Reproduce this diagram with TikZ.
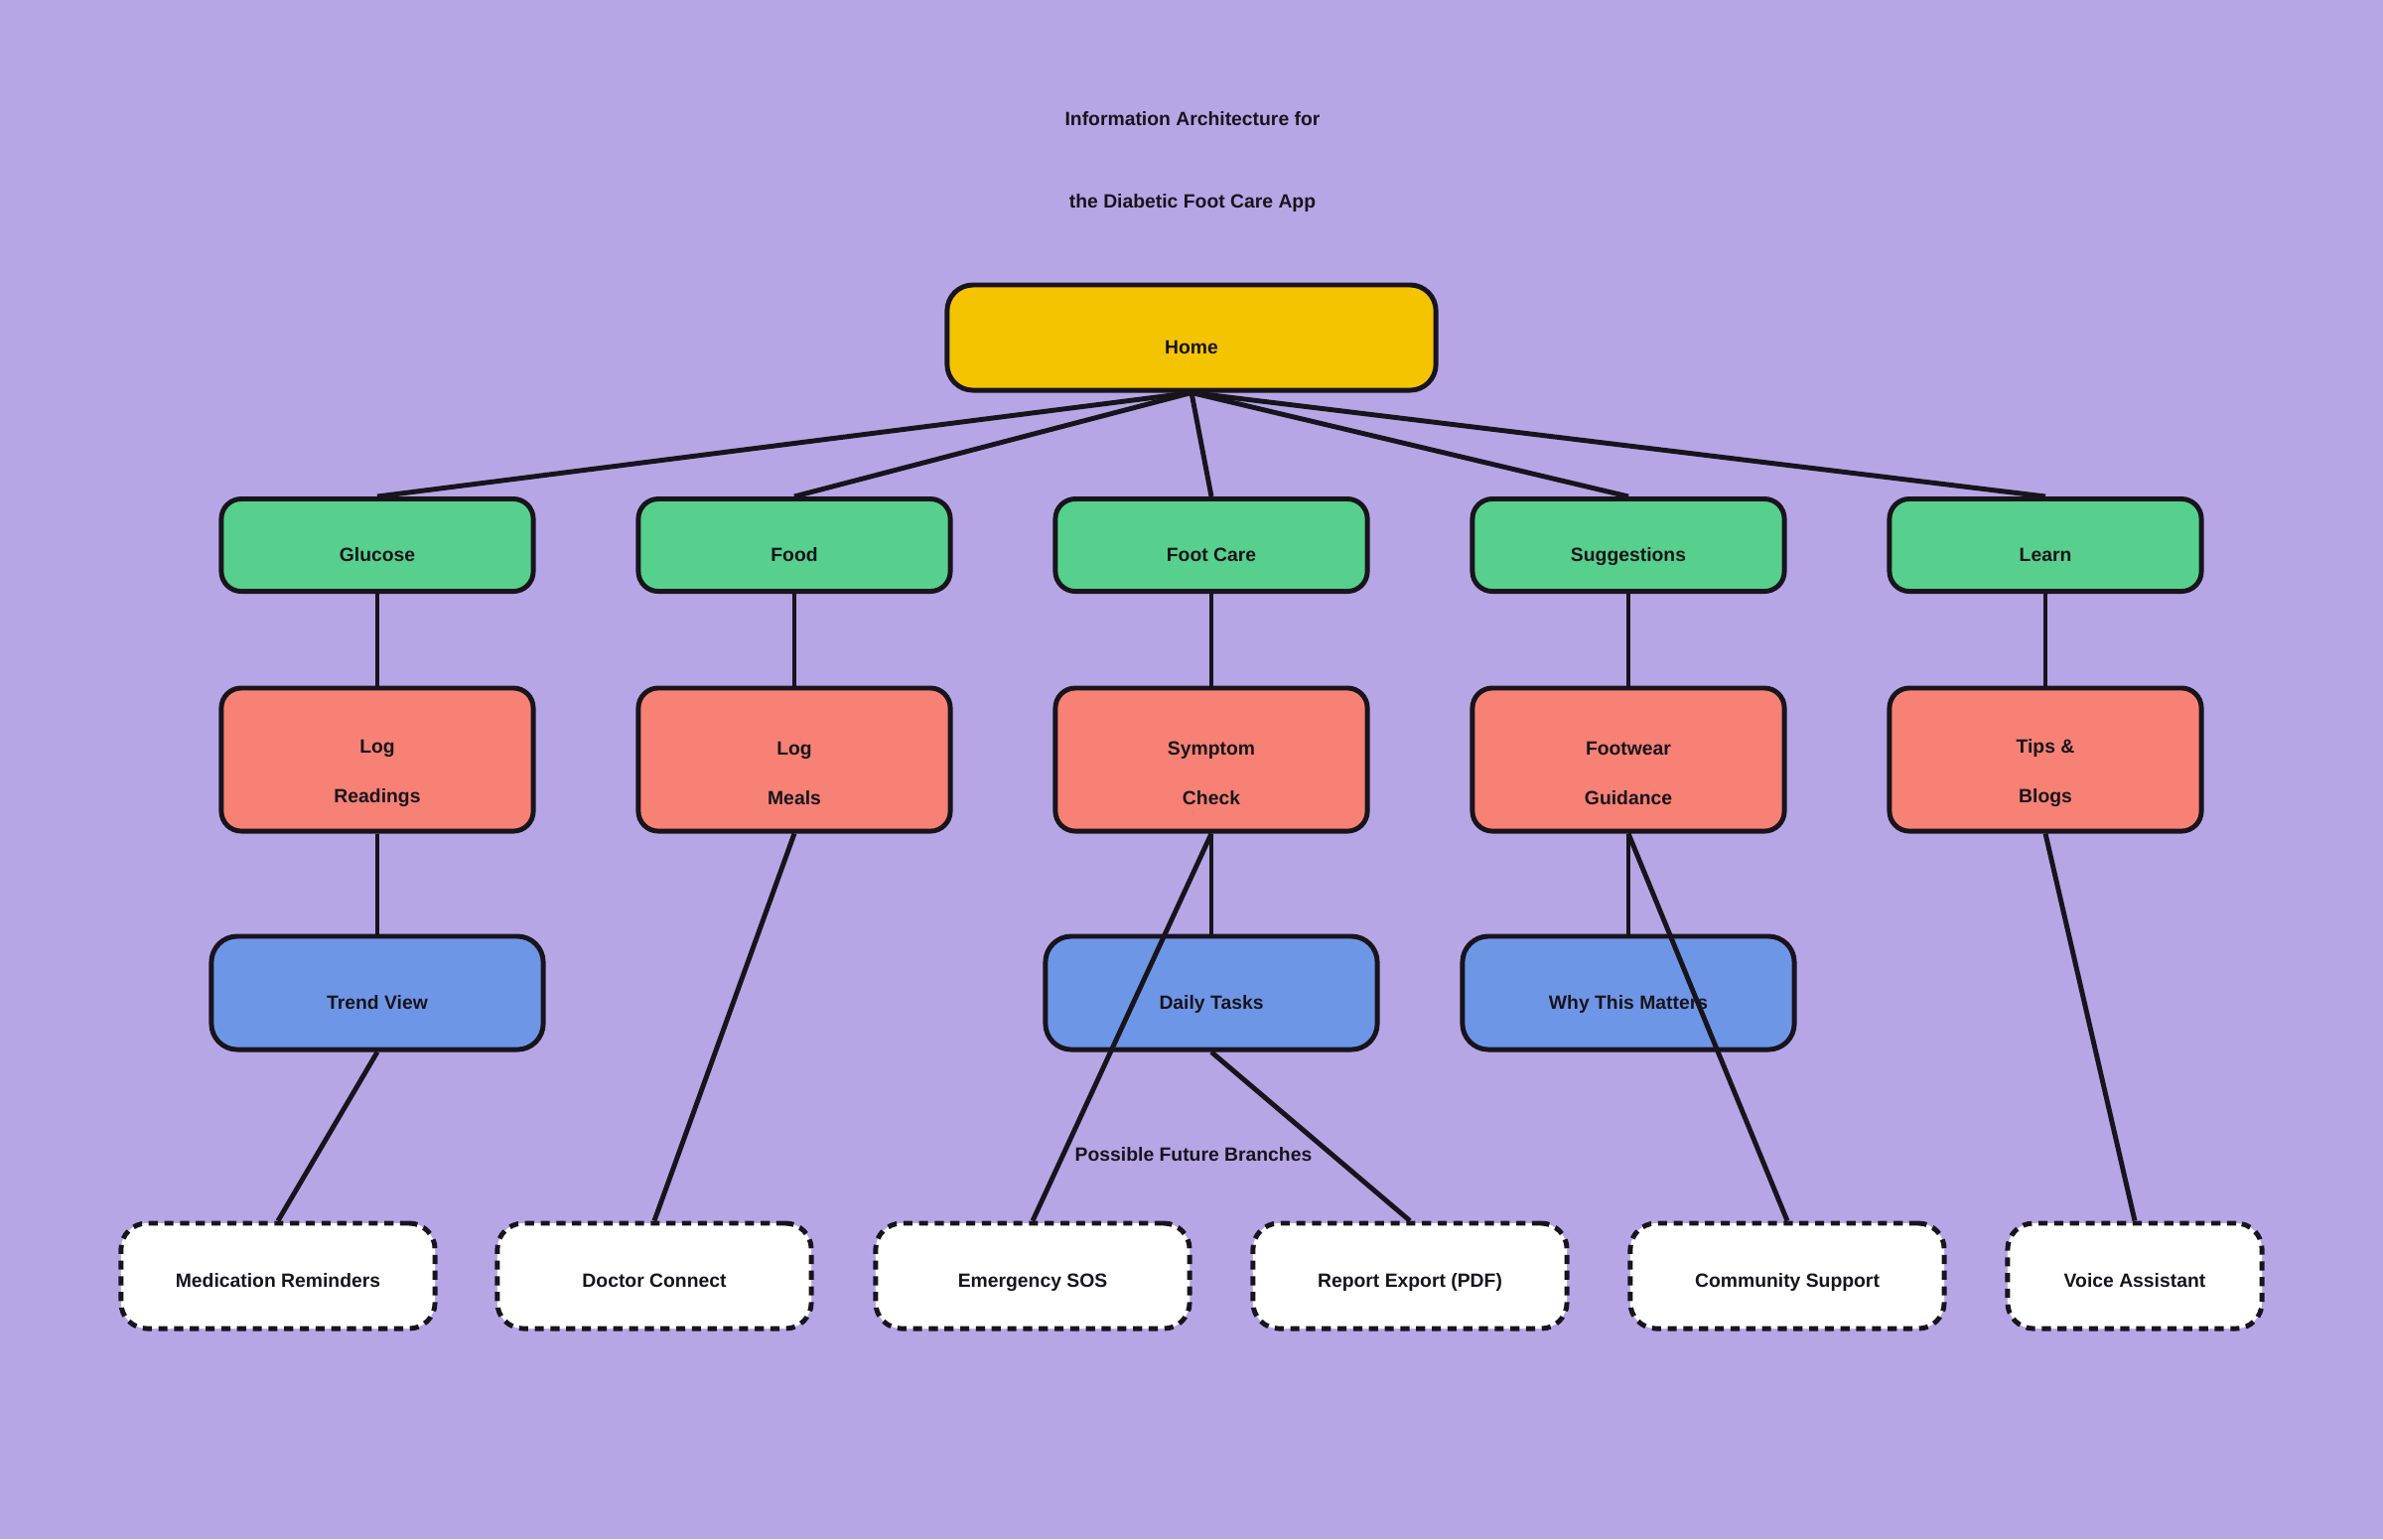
\documentclass[tikz,border=0pt]{standalone}
\usepackage{fontspec}
\setmainfont{Liberation Sans}
\usetikzlibrary{positioning}

\definecolor{bgpurple}{HTML}{B6A6E6}
\definecolor{homeyellow}{HTML}{F4C400}
\definecolor{secgreen}{HTML}{56D08C}
\definecolor{featred}{HTML}{F78174}
\definecolor{detblue}{HTML}{6E96E7}
\definecolor{ink}{HTML}{18141C}

% pushes a two line label a little down in its box
\newcommand\lowrow{\rule{0pt}{11.8pt}}

\begin{document}
\begin{tikzpicture}[x=0.01cm, y=-0.01cm,
    every node/.style = {font=\fontsize{5.5}{6.6}\selectfont\bfseries,
      text=ink, align=center},
    box/.style      = {draw=ink, line width=1.4pt, rounded corners=0.2cm},
    oneline/.style  = {text height=9.1pt, text depth=0pt},
    home/.style     = {box, oneline, fill=homeyellow, minimum width=4.92cm,
      minimum height=1.06cm, rounded corners=0.26cm},
    section/.style  = {box, oneline, fill=secgreen, minimum width=3.14cm,
      minimum height=0.93cm},
    feature/.style  = {box, fill=featred, minimum width=3.14cm,
      minimum height=1.44cm, font=\fontsize{5.5}{14.2}\selectfont\bfseries},
    detail/.style   = {box, oneline, fill=detblue, minimum width=3.34cm,
      minimum height=1.14cm, rounded corners=0.26cm},
    future/.style   = {box, fill=white, minimum width=3.16cm,
      minimum height=1.06cm, rounded corners=0.26cm,
      text height=6.6pt, text depth=0pt,
      dash pattern=on 2.6pt off 1.9pt},
    link/.style     = {draw=ink, line width=1.4pt},
  ]
  \fill[bgpurple] (0,0) rectangle (2400,1550);
  \useasboundingbox (0,0) rectangle (2400,1550);

  \node[font=\fontsize{5.5}{23.8}\selectfont\bfseries] (title) at (1201,163)
    {Information Architecture for\\the Diabetic Foot Care App};

  \node[home] (home) at (1200,340) {Home};

  % sections
  \node[section] (glucose)  at (380,549)  {Glucose};
  \node[section] (food)     at (800,549)  {Food};
  \node[section] (footcare) at (1220,549) {Foot Care};
  \node[section] (suggest)  at (1640,549) {Suggestions};
  \node[section] (learn)    at (2060,549) {Learn};

  % features
  \node[feature] (logread)  at (380,765)  {\lowrow Log\\Readings};
  \node[feature] (logmeal)  at (800,765)  {\lowrow Log\\Meals};
  \node[feature] (symptom)  at (1220,765) {\lowrow Symptom\\Check};
  \node[feature] (footwear) at (1640,765) {\lowrow Footwear\\Guidance};
  \node[feature] (tips)     at (2060,765) {\lowrow Tips \&\\Blogs};

  % details
  \node[detail] (trend) at (380,1000)  {Trend View};
  \node[detail] (daily) at (1220,1000) {Daily Tasks};
  \node[detail] (why)   at (1640,1000) {Why This Matters};

  % future branches
  \node (futurelbl) at (1202,1163) {Possible Future Branches};
  \node[future] (medrem)    at (280,1285)  {Medication Reminders};
  \node[future] (doctor)    at (659,1285)  {Doctor Connect};
  \node[future] (sos)       at (1040,1285) {Emergency SOS};
  \node[future] (export)    at (1420,1285) {Report Export (PDF)};
  \node[future] (community) at (1800,1285) {Community Support};
  \node[future, minimum width=2.56cm] (voice) at (2150,1285) {Voice Assistant};

  \foreach \s in {glucose,food,footcare,suggest,learn}
    \draw[link] (home.south) -- (\s.north);
  \draw[link] (glucose) -- (logread);
  \draw[link] (food) -- (logmeal);
  \draw[link] (footcare) -- (symptom);
  \draw[link] (suggest) -- (footwear);
  \draw[link] (learn) -- (tips);
  \draw[link] (logread) -- (trend);
  \draw[link] (symptom) -- (daily);
  \draw[link] (footwear) -- (why);
  \draw[link] (trend.south) -- (medrem.north);
  \draw[link] (logmeal.south) -- (doctor.north);
  \draw[link] (symptom.south) -- (sos.north);
  \draw[link] (daily.south) -- (export.north);
  \draw[link] (footwear.south) -- (community.north);
  \draw[link] (tips.south) -- (voice.north);
\end{tikzpicture}
\end{document}
